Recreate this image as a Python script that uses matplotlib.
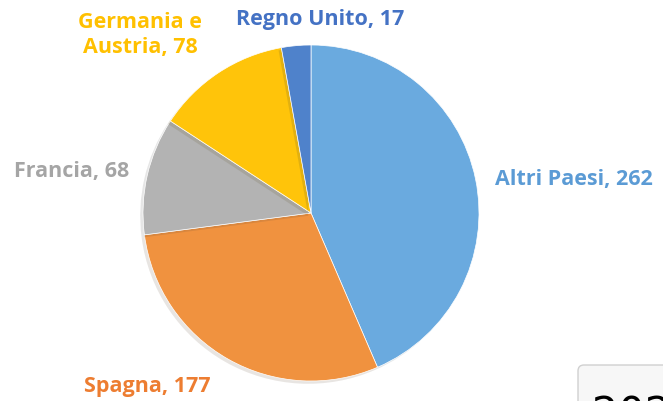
import matplotlib
matplotlib.use("Agg")
import matplotlib.pyplot as plt
from matplotlib.patches import FancyBboxPatch
import matplotlib.patheffects as pe

categories = ["Altri Paesi", "Spagna", "Francia", "Germania e\nAustria", "Regno Unito"]
values = [262, 177, 68, 78, 17]
colors = ["#6AAADF", "#F0923F", "#B3B3B3", "#FFC40A", "#4F82CB"]
text_colors = ["#5B9BD5", "#ED7D31", "#A5A5A5", "#FFC000", "#4472C4"]

W, H = 663, 402
fig = plt.figure(figsize=(W / 100, H / 100), dpi=100)
ax = fig.add_axes([0, 0, 1, 1])

cx, cy, r = 311, H - 214, 168
wedges, _ = ax.pie(values, colors=colors, startangle=90, counterclock=False,
                   center=(cx, cy), radius=r, frame=True,
                   wedgeprops=dict(linewidth=0.5, edgecolor="white",
                                   path_effects=[pe.SimplePatchShadow(offset=(-2, -2), alpha=0.12), pe.Normal()]))
ax.set_xlim(0, W)
ax.set_ylim(0, H)
ax.set_aspect("equal")
ax.axis("off")

font = "Open Sans"
labels = [f"{c}, {v}" for c, v in zip(categories, values)]
positions = [
    (495, H - 180, "left"),
    (147, H - 387, "center"),
    (72, H - 172, "center"),
    (140, H - 35, "center"),
    (320, H - 20, "center"),
]
for lab, (x, y, ha), tc in zip(labels, positions, text_colors):
    ax.text(x, y, lab, ha=ha, va="center", color=tc, fontsize=15.5,
            fontweight="bold", family=font, linespacing=1.3)

# partially visible overlay box at bottom right
box = FancyBboxPatch((578, -20), 120, 56, boxstyle="round,pad=0,rounding_size=6",
                     facecolor="#F7F7F7", edgecolor="#D0D0D0", linewidth=1.0,
                     clip_on=False, zorder=5)
ax.add_patch(box)
ax.text(592, -14, "2021", ha="left", va="center", fontsize=30, color="black",
        family="DejaVu Sans", zorder=6)

fig.savefig("out.png", dpi=100)
